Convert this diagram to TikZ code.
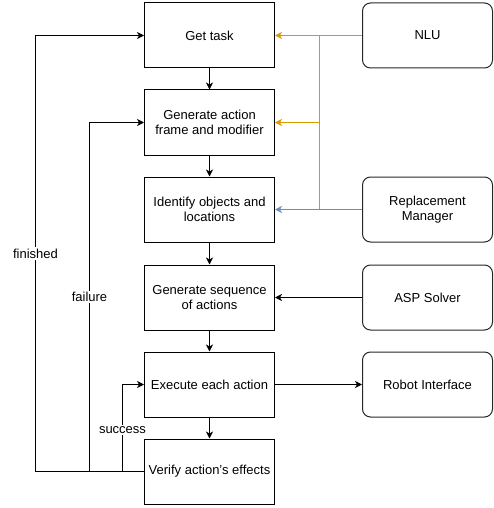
\documentclass[tikz,border=0pt]{standalone}
\usepackage{fontspec}
\setmainfont{Liberation Sans}
\usetikzlibrary{arrows.meta}
\definecolor{nluorange}{HTML}{D79B00}
\definecolor{rmblue}{HTML}{6C8EBF}
\tikzstyle{stage} = [rectangle, minimum width=130pt, minimum height=65pt, inner sep=2pt, text centered, align=center, draw=black, line width=1pt]
\tikzstyle{module} = [rectangle, rounded corners=8pt, minimum width=130pt, minimum height=65pt, inner sep=2pt, text centered, align=center, draw=black!85, line width=1pt]
\tikzstyle{arrow} = [line width=1pt,->,>={Stealth[length=7pt,width=7pt,inset=2pt]}]
\tikzstyle{lbl} = [fill=white, inner sep=1.5pt]

\begin{document}
\begin{tikzpicture}[x=1pt, y=-1pt, font=\fontsize{13}{15}\selectfont]
\useasboundingbox (0,0) rectangle (493,508);

% Nodes
\node (gettask) at (209.5,35.5) [stage] {Get task};
\node (genframe) at (209.5,122.5) [stage] {Generate action\\frame and modifier};
\node (identify) at (209.5,209.5) [stage] {Identify objects and\\locations};
\node (genseq) at (209.5,297.5) [stage] {Generate sequence\\of actions};
\node (execute) at (209.5,384.5) [stage] {Execute each action};
\node (verify) at (209.5,471.5) [stage] {Verify action's effects};

\node (nlu) at (427.5,35.5) [module] {NLU};
\node (replace) at (427.5,209.5) [module] {Replacement\\Manager};
\node (asp) at (427.5,297.5) [module] {ASP Solver};
\node (robot) at (427.5,384.5) [module] {Robot Interface};

\coordinate (nlusplit) at (319.5,35.5);
\coordinate (finx) at (35.5,471.5);
\coordinate (failx) at (89.5,471.5);
\coordinate (succx) at (122.5,471.5);

% Arrows
\draw [arrow] (gettask) -- (genframe);
\draw [arrow] (genframe) -- (identify);
\draw [arrow] (identify) -- (genseq);
\draw [arrow] (genseq) -- (execute);
\draw [arrow] (execute) -- (verify);

\draw [arrow, nluorange] (nlu) -- (gettask);
\draw [arrow, nluorange] (nlusplit) |- (genframe);
\draw [line width=1pt, nluorange] (nlusplit) -- (nlusplit |- identify);
\draw [arrow, rmblue] (replace) -- (identify);
\draw [arrow] (asp) -- (genseq);
\draw [arrow] (execute) -- (robot);

\draw [arrow] (verify.west) -- (finx) |- node[lbl, pos=0.25] {finished} (gettask.west);
\draw [arrow] (failx) |- node[lbl, pos=0.25] {failure} (genframe.west);
\draw [arrow] (succx) |- node[lbl, pos=0.24] {success} (execute.west);

\end{tikzpicture}
\end{document}
